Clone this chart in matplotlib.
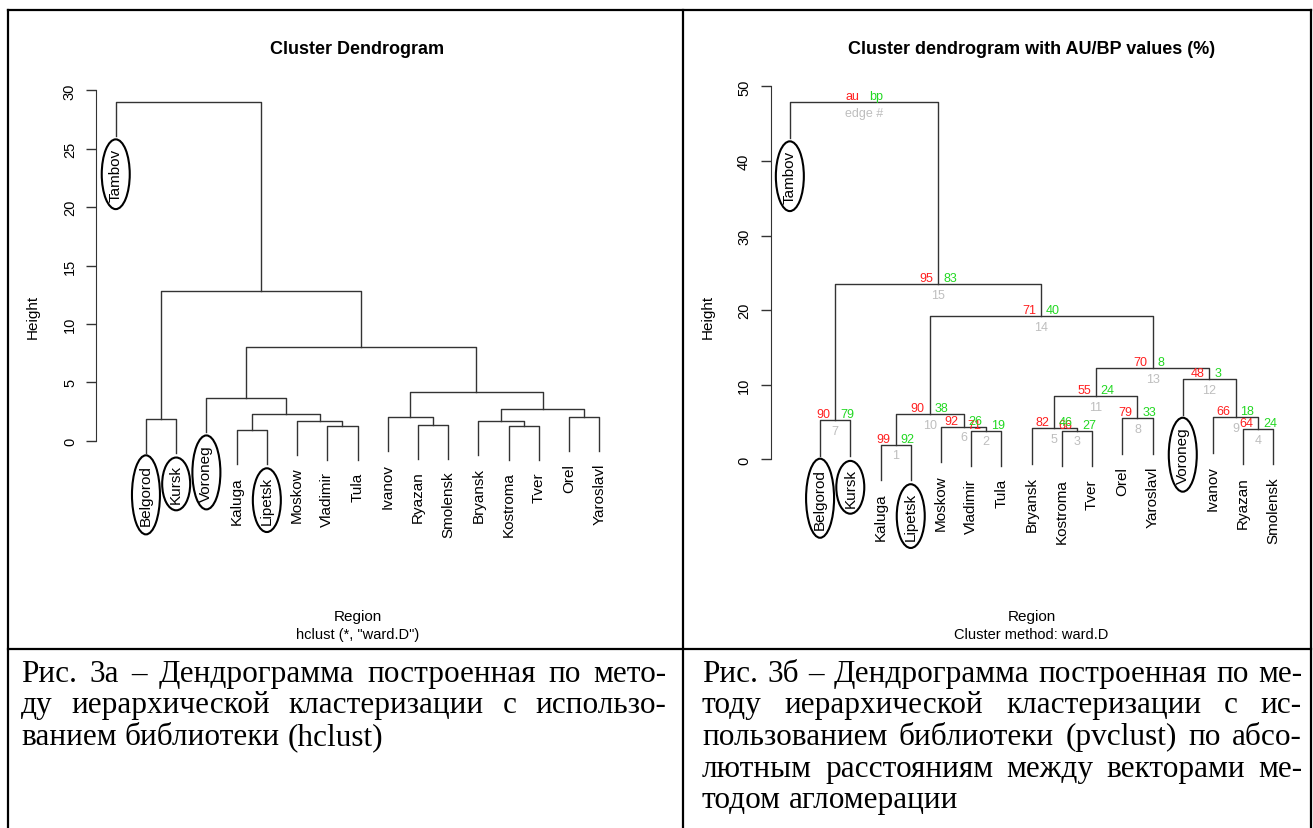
import matplotlib
matplotlib.use("Agg")
import matplotlib.pyplot as plt
from matplotlib.patches import Ellipse
from matplotlib.lines import Line2D

W, H, DPI = 1313, 829, 100
plt.rcParams["font.family"] = ["Liberation Sans", "DejaVu Sans"]

# ---- panel a: hclust, ward.D (leaves listed in plotted order, merges as in R) ----
LABELS_A = ["Tambov", "Belgorod", "Kursk", "Voroneg", "Kaluga", "Lipetsk", "Moskow",
            "Vladimir", "Tula", "Ivanov", "Ryazan", "Smolensk", "Bryansk", "Kostroma",
            "Tver", "Orel", "Yaroslavl"]
MERGE_A = [(-5, -6), (-8, -9), (-14, -15), (-11, -12), (-7, 2), (-13, 3), (-2, -3),
           (-10, 4), (-16, -17), (1, 5), (6, 9), (-4, 10), (8, 11), (12, 13), (7, 14), (-1, 15)]
HEIGHT_A = [0.88, 1.28, 1.28, 1.37, 1.67, 1.68, 1.88, 2.0, 2.0, 2.27, 2.73, 3.62,
            4.14, 7.99, 12.8, 29.0]
YTICKS_A = [0, 5, 10, 15, 20, 25, 30]

# ---- panel b: pvclust, ward.D ----
LABELS_B = ["Tambov", "Belgorod", "Kursk", "Kaluga", "Lipetsk", "Moskow", "Vladimir", "Tula",
            "Bryansk", "Kostroma", "Tver", "Orel", "Yaroslavl", "Voroneg", "Ivanov", "Ryazan",
            "Smolensk"]
MERGE_B = [(-4, -5), (-7, -8), (-10, -11), (-16, -17), (-9, 3), (-6, 2), (-2, -3),
           (-12, -13), (-15, 4), (1, 6), (5, 8), (-14, 9), (11, 12), (10, 13), (7, 14), (-1, 15)]
HEIGHT_B = [2.0, 3.86, 3.87, 4.12, 4.15, 4.4, 5.25, 5.5, 5.65, 6.05, 8.55, 10.8,
            12.2, 19.2, 23.55, 47.9]
AU_B = [99, 71, 66, 64, 82, 92, 90, 79, 66, 90, 55, 48, 70, 71, 95]
BP_B = [92, 19, 27, 24, 46, 26, 79, 33, 18, 38, 24, 3, 8, 40, 83]
YTICKS_B = [0, 10, 20, 30, 40, 50]

CIRCLED = ["Tambov", "Belgorod", "Kursk", "Voroneg", "Lipetsk"]

CAPTION_A = ["Рис. 3а – Дендрограмма построенная по мето-",
             "ду иерархической кластеризации с использо-",
             "ванием библиотеки (hclust)"]
CAPTION_B = ["Рис. 3б – Дендрограмма построенная по ме-",
             "тоду иерархической кластеризации с ис-",
             "пользованием библиотеки (pvclust) по абсо-",
             "лютным расстояниям между векторами ме-",
             "тодом агломерации"]

LINE = "#333333"
AU_COL, BP_COL, EDGE_COL = "#ff1f1f", "#22d822", "#bebebe"


def px_axes(fig, left, top, right, bottom):
    return fig.add_axes([left / W, 1 - bottom / H, (right - left) / W, (bottom - top) / H])


def draw_dendro(ax, labels, merge, height, hang=0.1):
    """R-style dendrogram: leaves at 1..n, node x = mean of its two children."""
    drop = hang * max(height)
    xpos, leaf_y = {}, {}
    for i, ((a, b), h) in enumerate(zip(merge, height), start=1):
        xs, ys = [], []
        for c in (a, b):
            if c < 0:
                xs.append(-c); ys.append(h - drop); leaf_y[-c] = h - drop
            else:
                xs.append(xpos[c]); ys.append(height[c - 1])
        ax.plot([xs[0], xs[0], xs[1], xs[1]], [ys[0], h, h, ys[1]], color=LINE, lw=1.0)
        xpos[i] = (xs[0] + xs[1]) / 2
    texts = {}
    for k, lab in enumerate(labels, start=1):
        texts[lab] = ax.annotate(lab, (k, leaf_y[k]), xytext=(0, -8.5), textcoords="offset points",
                                 rotation=90, ha="center", va="top", fontsize=11)
    return xpos, texts


def style_axis(ax, ticks, ylim):
    ax.set_xlim(0.36, 17.64)
    ax.set_ylim(*ylim)
    for s in ("top", "right", "bottom"):
        ax.spines[s].set_visible(False)
    ax.spines["left"].set_bounds(ticks[0], ticks[-1])
    ax.spines["left"].set_color(LINE)
    ax.set_xticks([])
    ax.set_yticks(ticks)
    ax.set_yticklabels([str(t) for t in ticks], rotation=90, va="center")
    ax.tick_params(axis="y", length=7, width=1, color=LINE, pad=7, labelsize=10.5)
    ax.patch.set_alpha(0)


fig = plt.figure(figsize=(W / DPI, H / DPI), dpi=DPI)

# left panel
axa = px_axes(fig, 96.4, 80, 618.6, 560)
style_axis(axa, YTICKS_A, (-10.13, 30.97))
_, txt_a = draw_dendro(axa, LABELS_A, MERGE_A, HEIGHT_A)

# right panel
axb = px_axes(fig, 770.5, 80, 1292.8, 560)
style_axis(axb, YTICKS_B, (-13.35, 51.0))
xpos_b, txt_b = draw_dendro(axb, LABELS_B, MERGE_B, HEIGHT_B)
for i, h in enumerate(HEIGHT_B, start=1):
    root = i == len(HEIGHT_B)
    au = "au" if root else str(AU_B[i - 1])
    bp = "bp" if root else str(BP_B[i - 1])
    ed = "edge #" if root else str(i)
    x = xpos_b[i]
    axb.annotate(au, (x, h), xytext=(-3.5, 0), textcoords="offset points",
                 ha="right", va="bottom", color=AU_COL, fontsize=9)
    axb.annotate(bp, (x, h), xytext=(3.5, 0), textcoords="offset points",
                 ha="left", va="bottom", color=BP_COL, fontsize=9)
    axb.annotate(ed, (x, h), xytext=(0, -3.5), textcoords="offset points",
                 ha="center", va="top", color=EDGE_COL, fontsize=9)

# titles / axis labels
for ax, title, sub in [(axa, "Cluster Dendrogram", 'hclust (*, "ward.D")'),
                       (axb, "Cluster dendrogram with AU/BP values (%)", "Cluster method: ward.D")]:
    p = ax.get_position()
    xc = p.x0 + p.width / 2
    fig.text(xc, 1 - 49 / H, title, ha="center", va="center", fontsize=13, fontweight="bold")
    fig.text(xc, 1 - 617 / H, "Region", ha="center", va="center", fontsize=11)
    fig.text(xc, 1 - 635 / H, sub, ha="center", va="center", fontsize=10.5)
fig.text(33 / W, 1 - 317 / H, "Height", rotation=90, ha="center", va="center", fontsize=11)
fig.text(708 / W, 1 - 317 / H, "Height", rotation=90, ha="center", va="center", fontsize=11)

# table frame
for x0, y0, x1, y1 in [(8, 11, 1311, 11), (8, 11, 8, 829), (683, 11, 683, 829),
                       (1311, 11, 1311, 829), (8, 650, 1311, 650)]:
    fig.add_artist(Line2D([x0 / W, x1 / W], [1 - y0 / H, 1 - y1 / H], color="black", lw=1.6))

fig.canvas.draw()
renderer = fig.canvas.get_renderer()

# hand-drawn ellipses around selected regions
for texts in (txt_a, txt_b):
    for name in CIRCLED:
        bb = texts[name].get_window_extent(renderer)
        cx, cy = (bb.x0 + bb.x1) / 2, (bb.y0 + bb.y1) / 2
        fig.add_artist(Ellipse((cx / W, cy / H), (bb.width + 14) / W, (bb.height * 1.2 + 6) / H,
                               transform=fig.transFigure, fill=False, ec="black", lw=1.5))

# justified captions (Times-like serif)
CAP_FS = 22.5


def justified(lines, x0, x1, y_first, step):
    probe = fig.text(0, 0, "x x", fontsize=CAP_FS, family="Liberation Serif")
    probe2 = fig.text(0, 0, "xx", fontsize=CAP_FS, family="Liberation Serif")
    space = probe.get_window_extent(renderer).width - probe2.get_window_extent(renderer).width
    probe.remove(); probe2.remove()
    for i, line in enumerate(lines):
        y = 1 - (y_first + i * step) / H
        words = line.split(" ")
        ts = [fig.text(0, y, w, fontsize=CAP_FS, family="Liberation Serif", va="baseline")
              for w in words]
        widths = [t.get_window_extent(renderer).width for t in ts]
        last = i == len(lines) - 1
        gap = space if last else (x1 - x0 - sum(widths)) / (len(words) - 1)
        x = x0
        for t, w in zip(ts, widths):
            t.set_x(x / W)
            x += w + gap


justified(CAPTION_A, 21, 666, 681.7, 31.7)
justified(CAPTION_B, 702, 1302, 681.7, 31.7)

fig.savefig("out.png", dpi=DPI)
